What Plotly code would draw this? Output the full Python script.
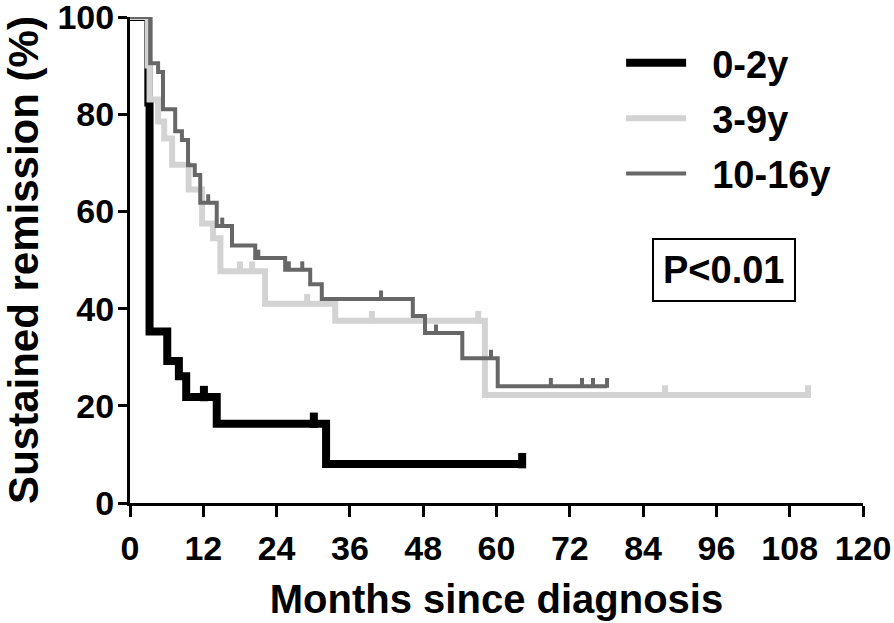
import plotly.graph_objects as go

# ---------------- data ----------------
groups = ["0-2y", "3-9y", "10-16y"]

t_0_2 = [0, 3.0, 3.2, 6.1, 8.0, 9.2, 14.2, 32.1, 64.2]
s_0_2 = [100, 82.4, 35.3, 29.2, 26.1, 21.8, 16.3, 8.0, 8.0]
c_0_2 = [12.1, 30.1, 64.2]

t_3_9 = [0, 2.9, 3.2, 4.6, 5.6, 6.9, 9.6, 11.8, 13.6, 14.8, 22.1, 33.6, 58.1, 111.0]
s_3_9 = [100, 90.0, 83.0, 78.5, 75.0, 69.6, 64.5, 57.5, 54.5, 47.7, 41.0, 37.5, 22.2, 22.2]
c_3_9 = [18.0, 20.0, 29.0, 39.6, 57.0, 87.6, 111.0]

t_10_16 = [0, 3.3, 4.6, 5.4, 7.4, 8.5, 9.5, 10.6, 11.5, 14.2, 16.7, 20.5, 25.4,
           29.5, 31.4, 46.3, 48.3, 54.4, 60.2, 78.1]
s_10_16 = [100, 90.5, 88.7, 81.0, 76.5, 74.7, 69.5, 67.5, 61.8, 57.0, 53.0, 50.4, 48.0,
           45.0, 42.0, 38.5, 35.0, 29.8, 24.0, 24.0]
c_10_16 = [12.8, 15.1, 21.0, 26.0, 28.2, 41.1, 50.1, 59.1, 68.9, 74.0, 75.8, 78.1]

x_ticks = [0, 12, 24, 36, 48, 60, 72, 84, 96, 108, 120]
y_ticks = [0, 20, 40, 60, 80, 100]
p_label = "P<0.01"

# ---------------- styling ----------------
colors = ["#000000", "#d3d3d3", "#676767"]
widths = [8, 6, 4]
FONT = "Liberation Sans, Arial, sans-serif"
W, H = 894, 623
M = dict(l=130, r=31, t=17, b=120)
plot_h = H - M["t"] - M["b"]
GAP = "\u00a0\u00a0"


def step_value(ts, ss, x):
    v = ss[0]
    for t, s in zip(ts, ss):
        if t <= x:
            v = s
    return v


fig = go.Figure()
series = [(t_0_2, s_0_2, c_0_2), (t_3_9, s_3_9, c_3_9), (t_10_16, s_10_16, c_10_16)]
for i, (ts, ss, cs) in enumerate(series):
    fig.add_trace(go.Scatter(
        x=ts, y=ss, mode="lines", line=dict(shape="hv", color=colors[i], width=widths[i]),
        name=GAP + groups[i], legendgroup=groups[i], cliponaxis=False, showlegend=True))
for i, (ts, ss, cs) in enumerate(series):
    # censor ticks sit on top of the line (shifted up a few pixels)
    half = widths[i] / 2 + 1.5
    shift = (widths[i] / 2 + 5 - half) * 100 / plot_h
    fig.add_trace(go.Scatter(
        x=cs, y=[step_value(ts, ss, c) + shift for c in cs], mode="markers",
        marker=dict(symbol="line-ns", size=2 * half, line=dict(color=colors[i], width=widths[i])),
        legendgroup=groups[i], showlegend=False, cliponaxis=False, hoverinfo="skip"))

axis_font = dict(family=FONT, size=34, color="black", weight="bold")

fig.update_xaxes(range=[0, 120], tickvals=x_ticks, ticktext=[str(v) for v in x_ticks],
                 showline=True, linecolor="black", linewidth=3, ticks="outside",
                 ticklen=11, tickwidth=3, tickcolor="black", showgrid=False, zeroline=False,
                 tickfont=axis_font, ticklabelstandoff=2, automargin=False,
                 ticklabeloverflow="allow",
                 title=dict(text="Months since diagnosis", standoff=20,
                            font=dict(family=FONT, size=40, color="black", weight="bold")))
fig.update_yaxes(range=[0, 100], tickvals=y_ticks, ticktext=[str(v) for v in y_ticks],
                 showline=True, linecolor="black", linewidth=3, ticks="outside",
                 ticklen=9, tickwidth=3, tickcolor="black", showgrid=False, zeroline=False,
                 tickfont=axis_font, ticklabelstandoff=-3, automargin=False,
                 ticklabeloverflow="allow",
                 title=dict(text="Sustained remission (%)", standoff=10,
                            font=dict(family=FONT, size=42, color="black", weight="bold")))

fig.add_annotation(xref="paper", yref="paper", x=0.811, y=0.479, text=p_label,
                   showarrow=False, xanchor="center", yanchor="middle",
                   font=dict(family=FONT, size=38, color="black", weight="bold"),
                   bordercolor="black", borderwidth=2, borderpad=9, bgcolor="white")

fig.update_layout(
    width=W, height=H, margin=M, plot_bgcolor="white", paper_bgcolor="white",
    showlegend=True,
    legend=dict(x=0.67, y=0.97, xanchor="left", yanchor="top", bgcolor="rgba(0,0,0,0)",
                font=dict(family=FONT, size=38, color="black", weight="bold"),
                tracegroupgap=3, itemwidth=60, traceorder="grouped"),
)

fig.write_html("out.html", config={"displayModeBar": False},
               post_script="document.body.style.margin='0px';")
